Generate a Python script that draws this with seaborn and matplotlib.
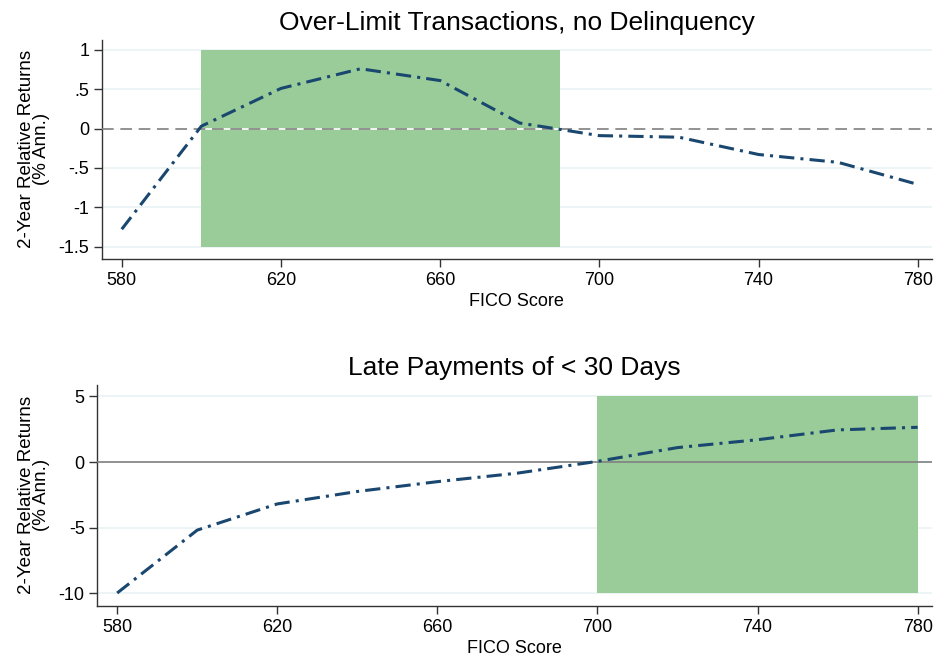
import matplotlib
matplotlib.use("Agg")
import matplotlib.pyplot as plt
import seaborn as sns
import pandas as pd

# Datos
fico = [580, 600, 620, 640, 660, 680, 700, 720, 740, 760, 780]
ret_overlimit = [-1.28, 0.03, 0.51, 0.76, 0.61, 0.07, -0.09, -0.11, -0.33, -0.43, -0.71]
ret_late = [-10.0, -5.2, -3.2, -2.25, -1.5, -0.85, 0.05, 1.1, 1.7, 2.45, 2.65]

# Zonas sombreadas (x0, x1, y0, y1)
zona_overlimit = (600, 690, -1.5, 1.0)
zona_late = (700, 780, -10, 5)

titulos = ["Over-Limit Transactions, no Delinquency", "Late Payments of < 30 Days"]
yticks_top = [1, 0.5, 0, -0.5, -1, -1.5]
yticklabels_top = ["1", ".5", "0", "-.5", "-1", "-1.5"]
yticks_bot = [5, 0, -5, -10]
yticklabels_bot = ["5", "0", "-5", "-10"]
xticks = [580, 620, 660, 700, 740, 780]

sns.set_style("white")
plt.rcParams['font.family'] = ['Liberation Sans', 'DejaVu Sans']
plt.rcParams['text.color'] = 'black'
plt.rcParams['axes.labelcolor'] = 'black'
plt.rcParams['xtick.color'] = 'black'
plt.rcParams['ytick.color'] = 'black'

navy = "#1a476f"
verde = "#99cc99"
grid_col = "#eaf2f3"

fig = plt.figure(figsize=(9.43, 6.61), dpi=100)
ax1 = fig.add_axes([0.108, 0.608, 0.880, 0.332])
ax2 = fig.add_axes([0.103, 0.083, 0.885, 0.335])


def panel(ax, y, zona, titulo, yticks, ylabels, ylim, zero_style):
    df = pd.DataFrame({'FICO Score': fico, 'ret': y})
    for t in yticks:
        ax.axhline(t, color=grid_col, lw=1.2, zorder=0)
    x0, x1, y0, y1 = zona
    ax.fill_between([x0, x1], y0, y1, color=verde, lw=0, zorder=1)
    if zero_style == 'dashed':
        ax.axhline(0, color="white", lw=1.2, zorder=2)
        ax.axhline(0, color="#808080", lw=1.2, ls=(0, (7, 4)), zorder=3)
    else:
        ax.axhline(0, color="#808080", lw=1.2, zorder=3)
    sns.lineplot(data=df, x='FICO Score', y='ret', ax=ax, color=navy,
                 lw=2.2, zorder=4)
    ax.lines[-1].set_linestyle((0, (5, 2, 1, 2)))
    ax.set_title(titulo, fontsize=19, pad=7)
    ax.set_xlabel("FICO Score", fontsize=13, labelpad=3)
    ax.set_ylabel("2-Year Relative Returns\n(% Ann.)", fontsize=13.5, linespacing=0.85,
                  labelpad=6)
    ax.set_xticks(xticks)
    ax.set_xticklabels([str(v) for v in xticks], fontsize=13)
    ax.set_yticks(yticks)
    ax.set_yticklabels(ylabels, fontsize=13)
    ax.set_xlim(575, 783.5)
    ax.set_ylim(*ylim)
    for s in ['top', 'right']:
        ax.spines[s].set_visible(False)
    for s in ['left', 'bottom']:
        ax.spines[s].set_color("#333333")
        ax.spines[s].set_linewidth(1.0)
    ax.tick_params(axis='both', which='major', direction='out', length=6,
                   width=1.0, color="#333333", left=True, bottom=True, pad=3)


panel(ax1, ret_overlimit, zona_overlimit, titulos[0], yticks_top, yticklabels_top,
      (-1.66, 1.13), 'dashed')
panel(ax2, ret_late, zona_late, titulos[1], yticks_bot, yticklabels_bot,
      (-11.0, 5.9), 'solid')

fig.savefig("out.png", dpi=100)
